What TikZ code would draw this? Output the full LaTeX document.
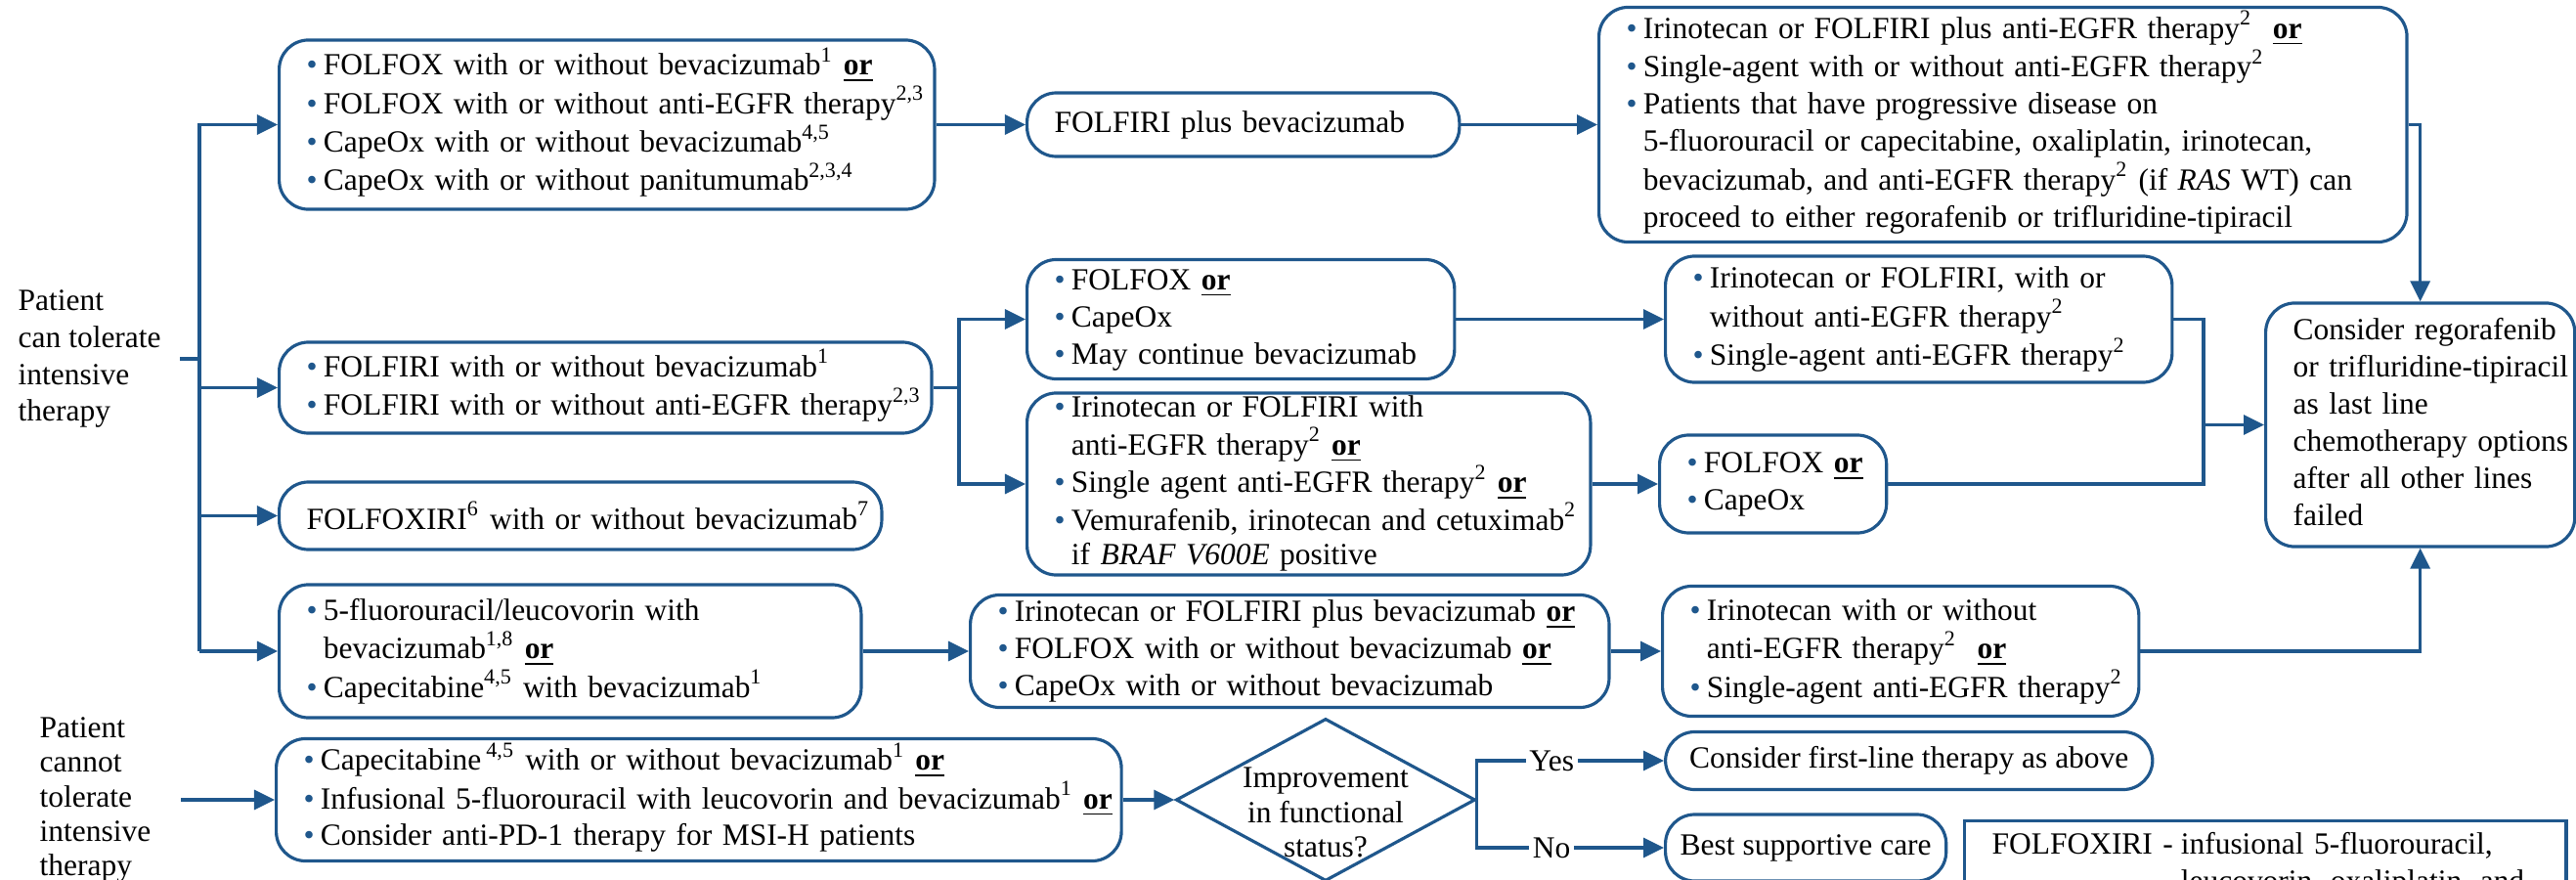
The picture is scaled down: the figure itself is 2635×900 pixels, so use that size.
\documentclass[tikz,border=0pt]{standalone}
\usepackage{fontspec}
\setmainfont{Liberation Serif}
\usetikzlibrary{arrows.meta,shapes.geometric}
\definecolor{flowblue}{RGB}{31,87,140}
\newcommand{\uor}{\textbf{\underline{or}}}
\newcommand{\bul}{\textcolor{flowblue}{\textbullet}}
\newcommand{\blist}[1]{\begin{tabular}{@{}l@{\hspace{1.8pt}}l@{}}#1\end{tabular}}
\tikzset{
	conn/.style={draw=flowblue, line width=0.9pt},
	arr/.style={conn, -{Triangle[length=2.1mm, width=2mm]}},
	box/.style={draw=flowblue, line width=0.9pt, rounded corners=0.3cm, fill=white, anchor=west, inner xsep=0.28cm, inner ysep=0pt, align=left},
	lbl/.style={inner sep=0pt, align=left}
}

\begin{document}
\begin{tikzpicture}[x=0.01cm, y=-0.01cm, font=\fontsize{8.95}{10.8}\selectfont]
		%%%%% START %%%%%
		\useasboundingbox (0,0) rectangle (2635,900);
		\clip (0,0) rectangle (2635,900);
		
		\node[lbl, anchor=west, inner xsep=0.19cm] (tol) at (-1,367) {Patient\\can tolerate\\intensive\\therapy};
		\node[lbl, anchor=west, inner xsep=0.3cm, font=\fontsize{8.95}{10}\selectfont] (nottol) at (10,818) {Patient\\cannot\\tolerate\\intensive\\therapy};
		
		% first line
		\node[box, text width=6.14cm, minimum height=1.73cm] (folfox) at (284,127.5) {\blist{
			\bul & FOLFOX with or without bevacizumab\textsuperscript{1} \uor\\
			\bul & FOLFOX with or without anti-EGFR therapy\textsuperscript{2,3}\\
			\bul & CapeOx with or without bevacizumab\textsuperscript{4,5}\\
			\bul & CapeOx with or without panitumumab\textsuperscript{2,3,4}}};
		\node[box, text width=6.11cm, minimum height=0.93cm] (folfiri) at (284,396.5) {\blist{
			\bul & FOLFIRI with or without bevacizumab\textsuperscript{1}\\
			\bul & FOLFIRI with or without anti-EGFR therapy\textsuperscript{2,3}}};
		\node[box, text width=5.60cm, minimum height=0.69cm] (folfoxiri) at (284,527.5) {\mbox{FOLFOXIRI\textsuperscript{6} with or without bevacizumab\textsuperscript{7}}};
		\node[box, text width=5.39cm, minimum height=1.36cm] (fuleu) at (284,666) {\blist{
			\bul & 5-fluorouracil/leucovorin with\\
			& bevacizumab\textsuperscript{1,8} \uor\\
			\bul & Capecitabine\textsuperscript{4,5} with bevacizumab\textsuperscript{1}}};
		\node[box, text width=8.08cm, minimum height=1.25cm] (capeinf) at (281,818) {\blist{
			\bul & Capecitabine\,\textsuperscript{4,5} with or without bevacizumab\textsuperscript{1} \uor\\
			\bul & Infusional 5-fluorouracil with leucovorin and bevacizumab\textsuperscript{1} \uor\\
			\bul & Consider anti-PD-1 therapy for MSI-H patients}};
		
		% second line
		\node[box, text width=3.86cm, minimum height=0.65cm] (folfiribev) at (1049,127.5) {FOLFIRI plus bevacizumab};
		\node[box, text width=3.81cm, minimum height=1.22cm] (oxbev) at (1049,326.5) {\blist{
			\bul & FOLFOX \uor\\
			\bul & CapeOx\\
			\bul & May continue bevacizumab}};
		\node[box, text width=5.20cm, minimum height=1.85cm, font=\fontsize{8.95}{10}\selectfont] (egfrbraf) at (1049,495) {\blist{
			\bul & Irinotecan or FOLFIRI with\\
			& anti-EGFR therapy\textsuperscript{2} \uor\\
			\bul & Single agent anti-EGFR therapy\textsuperscript{2} \uor\\
			\bul & Vemurafenib, irinotecan and cetuximab\textsuperscript{2}\\
			& if \textit{BRAF V600E} positive}};
		\node[box, text width=5.97cm, minimum height=1.15cm] (irinobev) at (991,666) {\blist{
			\bul & Irinotecan or FOLFIRI plus bevacizumab \uor\\
			\bul & FOLFOX with or without bevacizumab \uor\\
			\bul & CapeOx with or without bevacizumab}};
		\node[diamond, draw=flowblue, line width=0.9pt, minimum width=3.06cm, minimum height=1.66cm, inner sep=0pt] (improve) at (1356,818) {};
		\node[lbl, align=center, font=\fontsize{8.95}{10.2}\selectfont] (improvet) at (1356,831) {Improvement\\in functional\\status?};
		
		% third line
		\node[box, text width=7.70cm, minimum height=2.40cm] (thirdline) at (1634,127.5) {\blist{
			\bul & Irinotecan or FOLFIRI plus anti-EGFR therapy\textsuperscript{2}\ \ \uor\\
			\bul & Single-agent with or without anti-EGFR therapy\textsuperscript{2}\\
			\bul & Patients that have progressive disease on\\
			& 5-fluorouracil or capecitabine, oxaliplatin, irinotecan,\\
			& bevacizumab, and anti-EGFR therapy\textsuperscript{2} (if \textit{RAS} WT) can\\
			& proceed to either regorafenib or trifluridine-tipiracil}};
		\node[box, text width=4.62cm, minimum height=1.29cm] (irinoegfr) at (1702,326.5) {\blist{
			\bul & Irinotecan or FOLFIRI, with or\\
			& without anti-EGFR therapy\textsuperscript{2}\\
			\bul & Single-agent anti-EGFR therapy\textsuperscript{2}}};
		\node[box, text width=1.76cm, minimum height=1.00cm] (folfoxcape) at (1696,495) {\blist{
			\bul & FOLFOX \uor\\
			\bul & CapeOx}};
		\node[box, text width=4.31cm, minimum height=1.33cm] (irinosingle) at (1699,666) {\blist{
			\bul & Irinotecan with or without\\
			& anti-EGFR therapy\textsuperscript{2}\ \ \uor\\
			\bul & Single-agent anti-EGFR therapy\textsuperscript{2}}};
		\node[box, align=center, inner xsep=0.1cm, minimum width=4.98cm, minimum height=0.59cm] (firstline) at (1702,778) {Consider first-line therapy as above};
		\node[box, align=center, inner xsep=0.1cm, minimum width=2.87cm, minimum height=0.68cm] (bsc) at (1702,867) {Best supportive care};
		
		% last line
		\node[box, text width=2.60cm, minimum height=2.49cm] (lastline) at (2316,434.5) {\begin{tabular}{@{}l@{}}
			Consider regorafenib\\ or trifluridine-tipiracil\\ as last line\\ chemotherapy options\\ after all other lines\\ failed\end{tabular}};
		\node[draw=flowblue, line width=0.9pt, anchor=north west, inner xsep=0.28cm, inner ysep=0.07cm, text width=5.59cm, align=left] (abbrev) at (2008,838) {\begin{tabular}{@{}l@{\hspace{0.25em}}l@{}}
			FOLFOXIRI - & infusional 5-fluorouracil,\\
			& leucovorin, oxaliplatin, and\end{tabular}};
		
		% connectors
		\coordinate (tt) at (204,127.5);
		\draw[conn] (tol.east) -- (tol.east -| tt);
		\draw[arr] (tt |- fuleu.west) -- (tt) -- (folfox.west);
		\draw[arr] (tt |- folfiri.west) -- (folfiri.west);
		\draw[arr] (tt |- folfoxiri.west) -- (folfoxiri.west);
		\draw[arr] (tt |- fuleu.west) -- (fuleu.west);
		
		\draw[arr] (folfox.east) -- (folfiribev.west);
		\draw[arr] (folfiribev.east) -- (thirdline.west);
		\draw[arr] (thirdline.east) -| (lastline.north);
		
		\coordinate (hs) at (981,396.5);
		\draw[conn] (folfiri.east) -- (hs);
		\draw[arr] (hs) |- (oxbev.west);
		\draw[arr] (hs) |- (egfrbraf.west);
		\draw[arr] (oxbev.east) -- (irinoegfr.west);
		\draw[arr] (egfrbraf.east) -- (folfoxcape.west);
		
		\coordinate (mg) at (2254,434.5);
		\draw[conn] (irinoegfr.east) -| (mg);
		\draw[conn] (folfoxcape.east) -| (mg);
		\draw[arr] (mg) -- (lastline.west);
		
		\draw[arr] (fuleu.east) -- (irinobev.west);
		\draw[arr] (irinobev.east) -- (irinosingle.west);
		\draw[arr] (irinosingle.east) -| (lastline.south);
		
		\draw[arr] (nottol.east) -- (capeinf.west);
		\draw[arr] (capeinf.east) -- (improve.west);
		\draw[arr] (improve.east) |- node[pos=0.7, fill=white, inner sep=1pt] (yes) {Yes} (firstline.west);
		\draw[arr] (improve.east) |- node[pos=0.7, fill=white, inner sep=1pt] (no) {No} (bsc.west);
		
		%%%%% END %%%%%
	\end{tikzpicture}
\end{document}
